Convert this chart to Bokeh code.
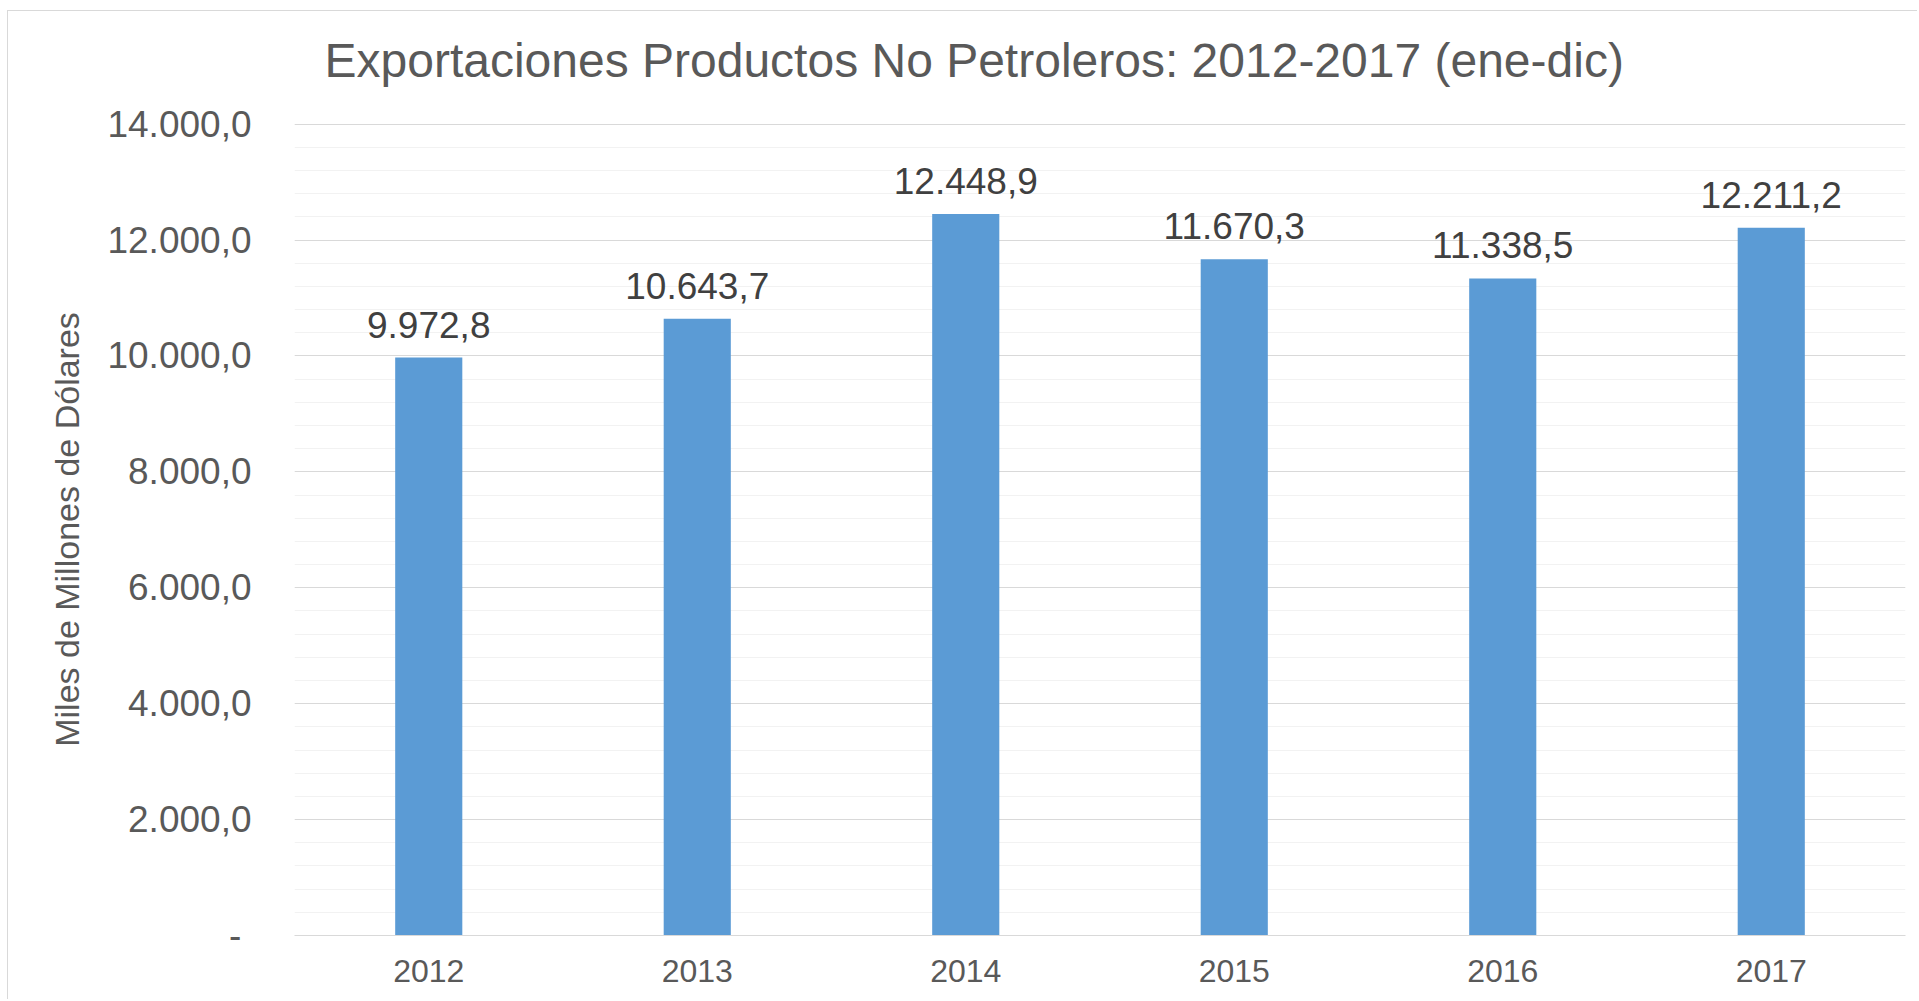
from bokeh.plotting import figure
from bokeh.models import ColumnDataSource, FixedTicker, LabelSet, Title, Range1d, FactorRange
from bokeh.core.properties import value
from bokeh.embed import file_html
from bokeh.resources import INLINE

# ---- data ----
years = ["2012", "2013", "2014", "2015", "2016", "2017"]
values = [9972.8, 10643.7, 12448.9, 11670.3, 11338.5, 12211.2]
data_labels = ["9.972,8", "10.643,7", "12.448,9", "11.670,3", "11.338,5", "12.211,2"]
y_ticks = [0, 2000, 4000, 6000, 8000, 10000, 12000, 14000]
y_tick_labels = ["-\u00a0", "2.000,0", "4.000,0", "6.000,0", "8.000,0", "10.000,0", "12.000,0", "14.000,0"]
minor_ticks = list(range(0, 14001, 400))

title_text = "Exportaciones Productos No Petroleros: 2012-2017 (ene-dic)"
y_title = "Miles de Millones de Dólares"

FONT = "Liberation Sans"

source = ColumnDataSource(data=dict(x=years, top=values, label=data_labels))

p = figure(
    width=1910, height=989, title=None,
    x_range=FactorRange(*years, range_padding=0),
    y_range=Range1d(0, 14012),
    output_backend="svg", toolbar_location=None,
    min_border_left=286, min_border_right=13, min_border_top=112, min_border_bottom=65,
)
p.styles = {"margin-left": "7px", "margin-top": "10px",
            "border-left": "1px solid #D9D9D9", "border-top": "1px solid #D9D9D9"}

# spacer panel between the title and the plot frame
p.add_layout(Title(text=" ", text_font_size="10px", standoff=5), "above")
p.add_layout(Title(text=title_text, align="left", offset=30, text_font=FONT,
                   text_font_size="48px", text_font_style="normal",
                   text_color="#595959", standoff=38), "above")

p.vbar(x="x", top="top", width=0.25, source=source, color="#5B9BD5", line_color=None)

labels = LabelSet(x="x", y="top", text="label", source=source, text_align="center",
                  text_baseline="alphabetic", y_offset=20, text_font=value(FONT),
                  text_font_size="37px", text_color="#404040")
p.add_layout(labels)

p.outline_line_color = None
p.background_fill_color = "white"
p.border_fill_color = "white"

# y axis
p.yaxis.ticker = FixedTicker(ticks=y_ticks, minor_ticks=minor_ticks)
p.yaxis.major_label_overrides = {t: l for t, l in zip(y_ticks, y_tick_labels)}
p.yaxis.major_label_text_font = FONT
p.yaxis.major_label_text_font_size = "37px"
p.yaxis.major_label_text_color = "#595959"
p.yaxis.axis_line_color = None
p.yaxis.major_tick_line_color = None
p.yaxis.minor_tick_line_color = None
p.yaxis.major_label_standoff = 37
p.yaxis.axis_label = y_title
p.yaxis.axis_label_text_font = FONT
p.yaxis.axis_label_text_font_size = "34px"
p.yaxis.axis_label_text_font_style = "normal"
p.yaxis.axis_label_text_color = "#595959"
p.yaxis.axis_label_standoff = 18

# x axis
p.xaxis.axis_line_color = "#D9D9D9"
p.xaxis.major_tick_line_color = None
p.xaxis.minor_tick_line_color = None
p.xaxis.major_label_text_font = FONT
p.xaxis.major_label_text_font_size = "32px"
p.xaxis.major_label_text_color = "#595959"
p.xaxis.major_label_standoff = 18

# grids
p.xgrid.grid_line_color = None
p.ygrid.grid_line_color = "#D9D9D9"
p.ygrid.minor_grid_line_color = "#F2F2F2"

open("out.html", "w").write(file_html(p, INLINE))
